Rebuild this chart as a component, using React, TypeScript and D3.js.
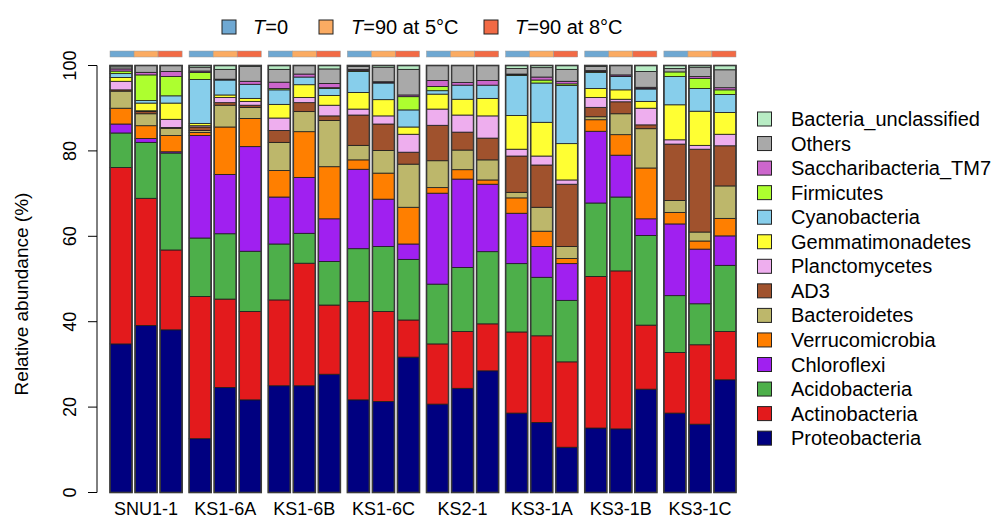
import React from "react";
import * as d3 from "d3";

// Sites, incubation conditions and taxa (bottom to top of each stack)
const sites = ["SNU1-1", "KS1-6A", "KS1-6B", "KS1-6C", "KS2-1", "KS3-1A", "KS3-1B", "KS3-1C"];
const conditions = ["T=0", "T=90 at 5°C", "T=90 at 8°C"];
const conditionColors = ["#6fa8d2", "#fbab62", "#f26a45"];

const taxa = [
  "Proteobacteria", "Actinobacteria", "Acidobacteria", "Chloroflexi", "Verrucomicrobia",
  "Bacteroidetes", "AD3", "Planctomycetes", "Gemmatimonadetes", "Cyanobacteria",
  "Firmicutes", "Saccharibacteria_TM7", "Others", "Bacteria_unclassified",
];
const taxaColors = [
  "#000080", "#e31a1c", "#4daf4a", "#a020f0", "#ff7f00",
  "#bdb76b", "#a0522d", "#eeaeee", "#ffff33", "#87ceeb",
  "#adff2f", "#cc66cc", "#a9a9a9", "#b8ecc4",
];

// Relative abundance (%) per taxon; 24 samples = 8 sites x 3 conditions
const proteobacteria = [34.8, 39.1, 38.1, 12.6, 24.6, 21.7, 25.0, 25.0, 27.7, 21.7, 21.3, 31.7, 20.7, 24.4, 28.5, 18.6, 16.4, 10.6, 15.1, 14.9, 24.2, 18.6, 16.0, 26.4];
const actinobacteria = [41.3, 29.8, 18.7, 33.3, 20.7, 20.7, 20.1, 28.7, 16.2, 23.0, 21.1, 8.7, 14.1, 13.3, 11.0, 19.0, 20.3, 20.0, 35.5, 37.0, 15.0, 14.2, 18.6, 11.3];
const acidobacteria = [8.1, 13.1, 22.7, 13.7, 15.3, 14.1, 13.1, 7.0, 10.2, 12.4, 15.2, 14.2, 14.0, 15.0, 16.9, 16.0, 13.7, 14.4, 17.2, 17.3, 21.0, 13.3, 9.6, 15.5];
const chloroflexi = [2.1, 0.9, 0.3, 24.0, 13.9, 24.5, 11.0, 13.1, 10.0, 18.6, 11.1, 3.6, 21.3, 20.7, 15.8, 11.8, 7.2, 8.6, 16.8, 9.8, 3.9, 16.8, 12.8, 6.9];
const verrucomicrobia = [3.7, 3.0, 3.8, 0.7, 11.1, 6.6, 6.2, 10.7, 12.2, 2.2, 6.1, 8.6, 1.3, 2.2, 1.0, 3.6, 3.6, 1.2, 2.7, 4.8, 11.9, 2.7, 1.9, 4.1];
const bacteroidetes = [4.0, 2.8, 1.7, 0.5, 5.1, 2.6, 6.6, 4.7, 10.8, 3.4, 5.3, 10.1, 6.3, 4.6, 4.7, 1.3, 5.6, 2.8, 0.7, 4.9, 9.2, 2.8, 2.1, 7.6];
const ad3 = [0.3, 0.5, 0.2, 0.8, 0.6, 0.5, 2.8, 2.1, 1.1, 7.1, 6.2, 2.8, 8.3, 4.2, 5.1, 8.5, 9.9, 14.6, 2.2, 2.8, 0.9, 13.2, 19.4, 9.4];
const planctomycetes = [2.0, 0.2, 1.9, 0.3, 1.2, 0.9, 2.9, 1.2, 2.5, 1.4, 1.9, 4.2, 3.8, 4.0, 5.2, 1.6, 2.1, 1.0, 2.3, 0.6, 3.9, 1.0, 0.9, 2.7];
const gemmatimonadetes = [0.9, 1.8, 3.8, 0.5, 0.6, 0.7, 3.2, 3.0, 2.3, 3.9, 3.8, 1.7, 3.5, 3.7, 4.1, 7.9, 7.9, 8.5, 2.1, 2.2, 1.6, 8.2, 8.0, 5.1];
const cyanobacteria = [0.9, 0.6, 1.7, 10.3, 3.5, 3.3, 3.4, 1.8, 1.6, 4.9, 3.9, 4.0, 0.8, 3.3, 3.1, 9.4, 9.2, 13.6, 3.8, 3.1, 2.9, 6.6, 5.3, 4.2];
const firmicutes = [0.6, 6.0, 4.5, 1.7, 0.0, 0.0, 0.3, 0.0, 0.2, 0.2, 0.1, 3.1, 1.0, 0.0, 0.0, 0.1, 0.7, 0.4, 0.2, 0.1, 0.1, 1.1, 2.4, 1.1];
const saccharibacteria = [0.5, 0.6, 1.2, 0.3, 0.2, 0.7, 1.5, 0.7, 1.0, 0.3, 0.2, 0.4, 1.4, 0.6, 1.1, 0.2, 0.7, 0.6, 0.2, 0.3, 0.3, 0.0, 0.4, 0.5];
const others = [0.5, 1.6, 1.4, 0.9, 2.3, 3.5, 3.0, 2.0, 3.4, 0.7, 3.4, 6.0, 3.5, 4.0, 3.5, 1.3, 2.2, 2.8, 1.0, 2.2, 3.7, 0.8, 2.2, 4.2];
const unclassified = [0.3, 0.0, 0.0, 0.4, 0.9, 0.2, 0.9, 0.0, 0.8, 0.2, 0.4, 0.9, 0.0, 0.0, 0.0, 0.7, 0.5, 0.9, 0.2, 0.0, 1.4, 0.7, 0.4, 1.0];

const yTicks = [0, 20, 40, 60, 80, 100];

const seriesValues = [
  proteobacteria, actinobacteria, acidobacteria, chloroflexi, verrucomicrobia,
  bacteroidetes, ad3, planctomycetes, gemmatimonadetes, cyanobacteria,
  firmicutes, saccharibacteria, others, unclassified,
];

type Sample = { [k: string]: any };

const samples: Sample[] = [];
sites.forEach((site, si) => {
  conditions.forEach((cond, ci) => {
    const row: Sample = { site, cond, idx: si * 3 + ci };
    taxa.forEach((t, ti) => {
      row[t] = seriesValues[ti][si * 3 + ci];
    });
    samples.push(row);
  });
});

const W = 997;
const H = 519;
const FONT = "Arial, 'Liberation Sans', Helvetica, sans-serif";

export default function App() {
  const x0 = d3.scaleBand<string>().domain(sites).range([110, 736]).paddingInner(7 / 79).paddingOuter(0);
  const x1 = d3.scaleBand<string>().domain(conditions).range([0, x0.bandwidth()]).paddingInner(0.12).paddingOuter(0);
  const y = d3.scaleLinear().domain([0, 100]).range([492.5, 65.5]);

  const stacked = d3.stack<Sample>().keys(taxa).offset(d3.stackOffsetExpand)(samples);
  const color = d3.scaleOrdinal<string, string>().domain(taxa).range(taxaColors);
  const condColor = d3.scaleOrdinal<string, string>().domain(conditions).range(conditionColors);

  const stripTop = 51;
  const stripH = 6;
  const cellW = x0.bandwidth() / conditions.length;

  const legendRowY = (i: number) => 119 + i * 24.55;
  const legendOrder = taxa.slice().reverse();

  return (
    <svg width={W} height={H} style={{ position: "absolute", left: 0, top: 0, background: "#fff" }} fontFamily={FONT}>
      {/* stacked bars */}
      {stacked.map((layer) => (
        <g key={layer.key} fill={color(layer.key)}>
          {layer.map((d) => {
            const v0 = d[0] * 100;
            const v1 = d[1] * 100;
            if (v1 - v0 < 0.01) return null;
            const s = d.data as Sample;
            const bx = (x0(s.site) ?? 0) + (x1(s.cond) ?? 0);
            return (
              <rect
                key={s.idx}
                x={bx}
                y={y(v1)}
                width={x1.bandwidth()}
                height={y(v0) - y(v1)}
                stroke="#1c1c1c"
                strokeWidth={0.8}
              />
            );
          })}
        </g>
      ))}

      {/* outline around each bar */}
      {samples.map((s) => (
        <rect
          key={"o" + s.idx}
          x={(x0(s.site) ?? 0) + (x1(s.cond) ?? 0)}
          y={y(100)}
          width={x1.bandwidth()}
          height={y(0) - y(100)}
          fill="none"
          stroke="#3a3a3a"
          strokeWidth={1.6}
        />
      ))}

      {/* condition strip above each site */}
      {sites.map((site) =>
        conditions.map((cond, ci) => (
          <rect
            key={site + cond}
            x={(x0(site) ?? 0) + ci * cellW}
            y={stripTop}
            width={cellW}
            height={stripH}
            fill={condColor(cond)}
            stroke="#9a9a9a"
            strokeWidth={0.5}
          />
        ))
      )}

      {/* y axis */}
      <line x1={97} x2={97} y1={y(0)} y2={y(100)} stroke="#000" strokeWidth={1} />
      {yTicks.map((t) => (
        <g key={t}>
          <line x1={88} x2={97} y1={y(t)} y2={y(t)} stroke="#000" strokeWidth={1} />
          <text
            transform={`translate(76,${y(t)}) rotate(-90)`}
            textAnchor="middle"
            fontSize={18}
            fill="#000"
          >
            {t}
          </text>
        </g>
      ))}
      <text transform={`translate(28,294) rotate(-90)`} textAnchor="middle" fontSize={19} fill="#000">
        Relative abundance (%)
      </text>

      {/* site labels */}
      {sites.map((site) => (
        <text key={site} x={(x0(site) ?? 0) + x0.bandwidth() / 2} y={515} textAnchor="middle" fontSize={18} fill="#000">
          {site}
        </text>
      ))}

      {/* condition legend */}
      {[
        { x: 222, tx: 253, rest: "=0" },
        { x: 319, tx: 351, rest: "=90 at 5°C" },
        { x: 484, tx: 515, rest: "=90 at 8°C" },
      ].map((l, i) => (
        <g key={i}>
          <rect x={l.x} y={20} width={14} height={14} fill={conditionColors[i]} stroke="#222" strokeWidth={1} />
          <text x={l.tx} y={34} fontSize={20} fill="#000">
            <tspan fontStyle="italic">T</tspan>
            {l.rest}
          </text>
        </g>
      ))}

      {/* taxa legend */}
      {legendOrder.map((t, i) => (
        <g key={t}>
          <rect x={757.5} y={legendRowY(i) - 7} width={14} height={14} fill={color(t)} stroke="#222" strokeWidth={1} />
          <text x={791} y={legendRowY(i) + 7} fontSize={20} fill="#000">
            {t}
          </text>
        </g>
      ))}
    </svg>
  );
}
